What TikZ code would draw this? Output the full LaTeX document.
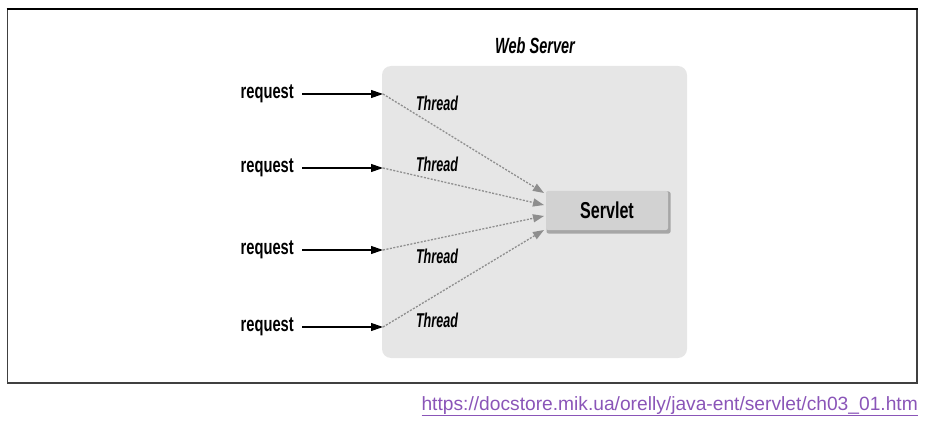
\documentclass[tikz,border=0pt]{standalone}
\usepackage{fontspec}
\setmainfont{Liberation Sans}
\newfontfamily\reqfont[FakeStretch=0.70]{Liberation Sans}
\newfontfamily\thrfont[FakeStretch=0.63]{Liberation Sans}
\newfontfamily\wsfont[FakeStretch=0.66]{Liberation Sans}
\usetikzlibrary{arrows.meta,calc}
\definecolor{boxgrey}{HTML}{E6E6E6}
\definecolor{servgrey}{HTML}{D2D2D2}
\definecolor{servshadow}{HTML}{A6A6A6}
\definecolor{dotgrey}{HTML}{8E8E8E}
\definecolor{urlpurple}{HTML}{8A55B8}
\tikzset{
  reqlabel/.style={font=\reqfont\bfseries\fontsize{21}{21}\selectfont, inner sep=0pt, anchor=east},
  thrlabel/.style={font=\thrfont\bfseries\itshape\fontsize{20}{20}\selectfont, inner sep=0pt},
  reqarrow/.style={draw=black, line width=1.2pt, -{Triangle[length=12pt,width=8pt]}},
  thrarrow/.style={draw=dotgrey, line width=1.3pt, dash pattern=on 2pt off 1.5pt, -{Triangle[length=11pt,width=8pt]}},
}
\begin{document}
\begin{tikzpicture}[x=1pt,y=-1pt]
\useasboundingbox (0,0) rectangle (926,422);
% frame
\draw[draw=black!75, line width=1.6pt] (7.5,9) rectangle (917,383);
\draw[line width=2.6pt] (6.7,9) -- (917.8,9);
% web server box
\node[fill=boxgrey, rounded corners=9pt, minimum width=305pt, minimum height=292pt, inner sep=0pt] (ws) at (534.5,212) {};
\node[font=\wsfont\bfseries\itshape\fontsize{22}{22}\selectfont, inner sep=0pt] (wstitle) at (535,46) {Web Server};
% servlet box
\node[fill=servshadow, rounded corners=2pt, minimum width=124pt, minimum height=42pt, inner sep=0pt] (servshad) at (608.5,212.5) {};
\node[fill=servgrey, rounded corners=2pt, minimum width=122pt, minimum height=39pt, inner sep=0pt,
      font=\reqfont\bfseries\fontsize{23}{23}\selectfont] (servlet) at (607,210.5) {Servlet};
% requests
\foreach \i/\y in {1/94,2/168,3/250,4/327}{
  \node[reqlabel] (req\i) at (294,\y) {request};
  \coordinate (t\i) at (383,\y);
}
\draw[reqarrow] ($(req1.east)+(8,0)$) -- (t1);
\draw[reqarrow] ($(req2.east)+(8,0)$) -- (t2);
\draw[reqarrow] ($(req3.east)+(8,0)$) -- (t3);
\draw[reqarrow] ($(req4.east)+(8,0)$) -- (t4);
% targets on servlet
\coordinate (e1) at (544,193);
\coordinate (e2) at (544,205);
\coordinate (e3) at (544,216);
\coordinate (e4) at (544,230);
\draw[thrarrow] (t1) -- (e1);
\draw[thrarrow] (t2) -- (e2);
\draw[thrarrow] (t3) -- (e3);
\draw[thrarrow] (t4) -- (e4);
% thread labels
\node[thrlabel] (th1) at (437,103) {Thread};
\node[thrlabel] (th2) at (437,164) {Thread};
\node[thrlabel] (th3) at (437,256) {Thread};
\node[thrlabel] (th4) at (437,320) {Thread};
% url
\node[font=\fontsize{19.2}{19.2}\selectfont, text=urlpurple, inner sep=0pt, anchor=base east] (url) at (918,410)
  {\underline{https://docstore.mik.ua/orelly/java-ent/servlet/ch03\_01.htm}};
\end{tikzpicture}
\end{document}
